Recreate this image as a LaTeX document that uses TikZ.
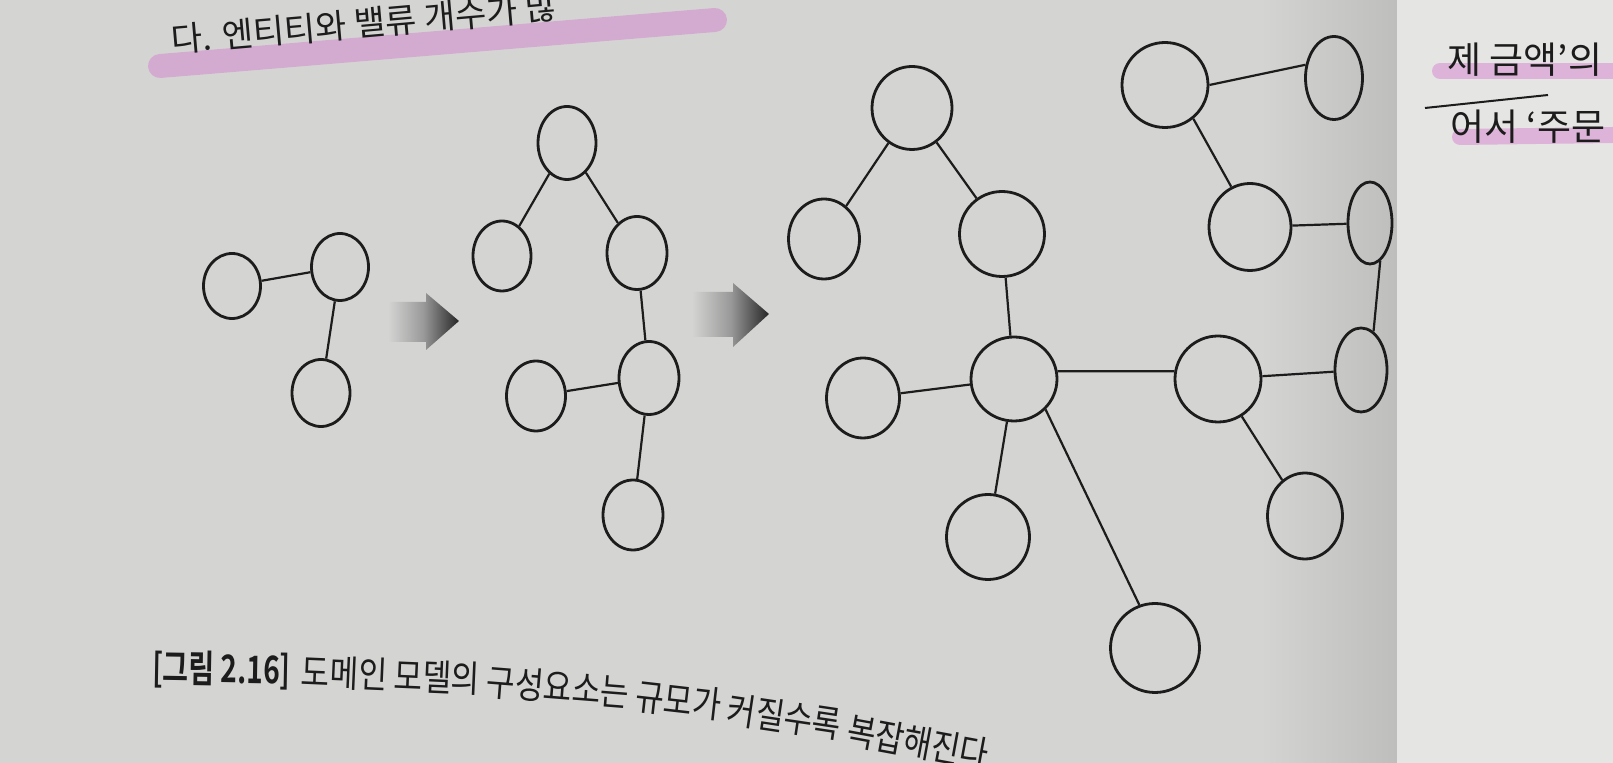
\documentclass[tikz,border=0pt]{standalone}
\usepackage{fontspec}
\newfontfamily\kr{Noto Sans CJK KR}
\newfontfamily\krcap{Noto Sans CJK KR}[FakeStretch=0.84]
\newfontfamily\krcapb{Noto Sans CJK KR Bold}[FakeStretch=0.74]
\usetikzlibrary{shapes.geometric}
\definecolor{paper}{RGB}{212,213,211}
\definecolor{paperR}{RGB}{229,229,227}
\definecolor{gutter}{RGB}{190,191,189}
\definecolor{ink}{RGB}{28,28,28}
\definecolor{hl}{RGB}{212,120,205}
\begin{document}
\begin{tikzpicture}[x=0.5pt,y=-0.5pt,
  circ/.style={ellipse, draw=ink, line width=1.4pt, inner sep=0pt},
  link/.style={draw=ink, line width=1.1pt},
  bigarrow/.style={left color=paper, right color=black!85, middle color=black!40},
  hilite/.style={draw=hl, line cap=round},
  txt/.style={inner sep=0pt, text=ink, font=\kr\fontsize{18.5}{20}\selectfont},
  captxt/.style={inner sep=0pt, text=ink, font=\krcap\fontsize{18.5}{21}\selectfont, anchor=west},
]
\useasboundingbox (0,0) rectangle (1613,763);
\clip (0,0) rectangle (1613,763);
% paper
\fill[paper] (0,0) rectangle (1613,763);
\shade[left color=paper, right color=gutter] (1260,0) rectangle (1397,763);
\fill[paperR] (1397,0) rectangle (1613,763);

% highlights
\draw[hilite, line width=12pt, opacity=0.45] (160,66) .. controls (330,52) and (520,36) .. (715,20);
\draw[hilite, line width=8pt, opacity=0.45] (1440,71) -- (1613,71);
\draw[hilite, line width=8pt, opacity=0.45] (1460,137) -- (1613,135);

% top texts
\node[txt, font=\kr\fontsize{17}{19}\selectfont, anchor=base west, rotate=5] (t1) at (172,53) {다. 엔티티와 밸류 개수가 많};
\node[txt, anchor=base west] (t2) at (1447,74) {제 금액’의};
\node[txt, anchor=base west] (t3) at (1450,141) {어서 ‘주문};
\draw[ink, line width=1pt] (1425,108) -- (1548,95);

% graph 1
\node[circ, minimum width=28.5pt, minimum height=32.5pt] (A) at (232,286) {};
\node[circ, minimum width=28.5pt, minimum height=33.5pt] (B) at (340,267) {};
\node[circ, minimum width=29pt, minimum height=33.5pt] (C) at (321,393) {};
\draw[link] (A) -- (B);
\draw[link] (B) -- (C);

% arrow 1
\shade[bigarrow] (388,302) -- (426,302) -- (426,293) -- (459,321) -- (426,350) -- (426,342) -- (388,342) -- cycle;

% graph 2
\node[circ, minimum width=29pt, minimum height=36.5pt] (D) at (567,143) {};
\node[circ, minimum width=29pt, minimum height=35pt] (E) at (502,256) {};
\node[circ, minimum width=30pt, minimum height=36.5pt] (F) at (637,253) {};
\node[circ, minimum width=29.5pt, minimum height=35pt] (G) at (536,396) {};
\node[circ, minimum width=30pt, minimum height=36.5pt] (H) at (649,378) {};
\node[circ, minimum width=30pt, minimum height=35pt] (I) at (633,515) {};
\draw[link] (D) -- (E);
\draw[link] (D) -- (F);
\draw[link] (F) -- (H);
\draw[link] (G) -- (H);
\draw[link] (H) -- (I);

% arrow 2
\shade[bigarrow] (692,292) -- (733,292) -- (733,283) -- (769,314) -- (733,347) -- (733,337) -- (692,337) -- cycle;

% graph 3
\node[circ, minimum width=40pt, minimum height=41.5pt] (J) at (912,108) {};
\node[circ, minimum width=35.5pt, minimum height=40pt] (K) at (824,239) {};
\node[circ, minimum width=42.5pt, minimum height=42.5pt] (L) at (1002,234) {};
\node[circ, minimum width=36.5pt, minimum height=40pt] (M) at (863,398) {};
\node[circ, minimum width=43pt, minimum height=42pt] (N) at (1014,379) {};
\node[circ, minimum width=41.5pt, minimum height=42.5pt] (O) at (988,537) {};
\node[circ, minimum width=44.5pt, minimum height=44.5pt] (P) at (1155,648) {};
\node[circ, minimum width=43pt, minimum height=43pt] (Q) at (1218,379) {};
\node[circ, minimum width=43pt, minimum height=42.5pt] (R) at (1165,85) {};
\node[circ, minimum width=28.5pt, minimum height=41.5pt] (S) at (1334,78) {};
\node[circ, minimum width=41pt, minimum height=43.5pt] (T) at (1250,227) {};
\node[circ, minimum width=22pt, minimum height=41pt] (U) at (1370,223) {};
\node[circ, minimum width=26pt, minimum height=42pt] (V) at (1361,370) {};
\node[circ, minimum width=37.5pt, minimum height=43pt] (W) at (1305,516) {};
\draw[link] (J) -- (K);
\draw[link] (J) -- (L);
\draw[link] (L) -- (N);
\draw[link] (M) -- (N);
\draw[link] (N) -- (O);
\draw[link] (N.-44) -- (P.110);
\draw[link] (N.10) -- (Q.170);
\draw[link] (Q) -- (V);
\draw[link] (Q) -- (W);
\draw[link] (R.-50) -- (T.115);
\draw[link] (R.0) -- (S.155);
\draw[link] (T) -- (U);
\draw[link] (U.-75) -- (V.72);

% caption
\node[captxt, font=\krcapb\fontsize{19}{21}\selectfont, rotate=-1] (c1) at (152,669) {[그림 2.16]};
\node[captxt, rotate=-2.5] (c2) at ([xshift=5pt]c1.east) {도메인 모델의};
\node[captxt, rotate=-4.5] (c3) at ([xshift=3pt,yshift=-1pt]c2.east) {구성요소는};
\node[captxt, rotate=-6.5] (c4) at ([xshift=3pt,yshift=-1.5pt]c3.east) {규모가};
\node[captxt, rotate=-8.5] (c5) at ([xshift=3pt,yshift=-1.5pt]c4.east) {커질수록};
\node[captxt, rotate=-10.5] (c6) at ([xshift=3pt,yshift=-2pt]c5.east) {복잡해진다};
\end{tikzpicture}
\end{document}
